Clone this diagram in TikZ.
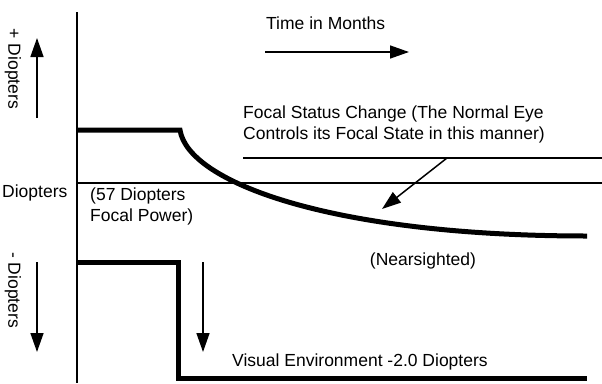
\documentclass[tikz,border=0pt]{standalone}
\usepackage{fontspec}
\setmainfont{Liberation Sans}
\usetikzlibrary{arrows.meta}

\begin{document}
\begin{tikzpicture}[x=1pt,y=-1pt,
    lbl/.style={font=\fontsize{17.5}{21}\selectfont,inner sep=0pt},
    thin line/.style={line width=1.3pt},
    thick line/.style={line width=5pt},
    arr/.style={line width=1.5pt,-{Triangle[length=19pt,width=13pt]}}]
    \useasboundingbox[fill=white] (0,0) rectangle (602,383);
    % axes
    \draw[thin line] (77,12) -- (77,383);
    \draw[thin line] (77,183) -- (602,183);
    \draw[thin line] (243,158) -- (602,158);
    % focal state of the eye
    \draw[thick line] (77,130) -- (180,130)
        .. controls (188,182) and (330,236) .. (587,236);
    % visual environment
    \draw[thick line] (77,262) -- (178,262) -- (178,378) -- (587,378);
    % arrows
    \coordinate (up0) at (37,118);
    \coordinate (up1) at (37,38);
    \coordinate (dn0) at (37,262);
    \coordinate (dn1) at (37,352);
    \coordinate (env0) at (203,262);
    \coordinate (env1) at (203,352);
    \coordinate (time0) at (265,52);
    \coordinate (time1) at (409,52);
    \coordinate (fsc0) at (447,158);
    \coordinate (fsc1) at (382,209);
    \draw[arr] (up0) -- (up1);
    \draw[arr] (dn0) -- (dn1);
    \draw[arr] (env0) -- (env1);
    \draw[arr] (time0) -- (time1);
    \draw[arr] (fsc0) -- (fsc1);
    % labels
    \node[lbl,rotate=-90] (plus) at (13,69) {+ Diopters};
    \node[lbl,rotate=-90] (minus) at (13,290) {- Diopters};
    \node[lbl,anchor=west] (dio) at (2,193) {Diopters};
    \node[lbl,anchor=north west,align=left] (power) at (90,188) {(57 Diopters\\Focal Power)};
    \node[lbl,anchor=west] (time) at (266,23) {Time in Months};
    \node[lbl,anchor=north west,align=left] (fsc) at (243,106) {Focal Status Change (The Normal Eye\\Controls its Focal State in this manner)};
    \node[lbl] (near) at (423,261) {(Nearsighted)};
    \node[lbl,anchor=west] (env) at (232,362) {Visual Environment -2.0 Diopters};
  \end{tikzpicture}
\end{document}
